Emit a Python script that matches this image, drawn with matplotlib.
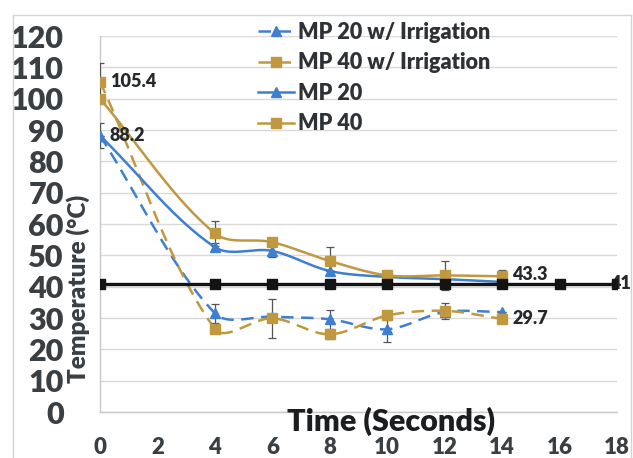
import numpy as np
import matplotlib
matplotlib.use("Agg")
import matplotlib.pyplot as plt
from matplotlib.lines import Line2D

plt.rcParams['font.family'] = ['Lato', 'DejaVu Sans']
plt.rcParams['font.weight'] = 'heavy'

# ---------------- data ----------------
t = [0, 4, 6, 8, 10, 12, 14]
mp20_irr = [88.2, 31.5, 30.4, 29.6, 26.4, 31.9, 31.9]
mp20_irr_err = [4.0, 3.0, 0.0, 3.0, 4.2, 0.0, 0.0]
mp40_irr = [105.4, 26.5, 29.9, 24.8, 30.8, 32.3, 29.7]
mp40_irr_err = [6.0, 0.0, 6.3, 1.5, 1.5, 2.5, 0.0]
mp20 = [88.2, 52.6, 51.4, 45.0, 43.1, 42.4, 41.5]
mp20_err = [0.0, 1.2, 1.8, 0.0, 0.0, 0.0, 0.0]
mp40 = [100.0, 57.0, 54.2, 48.2, 43.6, 43.6, 43.3]
mp40_err = [0.0, 4.0, 1.0, 4.5, 0.0, 4.7, 2.0]
t_ctrl = [0, 4, 6, 8, 10, 12, 14, 16, 18]
ctrl = [41.0, 41.0, 41.0, 41.0, 41.0, 41.0, 41.0, 41.0, 41.0]
ctrl_err = [0, 0, 0, 0, 0, 0, 0, 1.0, 0]

series_names = ["MP 20 w/ Irrigation", "MP 40 w/ Irrigation", "MP 20", "MP 40"]
x_ticks = [0, 2, 4, 6, 8, 10, 12, 14, 16, 18]
y_ticks = [0, 10, 20, 30, 40, 50, 60, 70, 80, 90, 100, 110, 120]

BLUE = '#3f7fd0'
GOLD = '#c0983f'
BLACK = '#141414'

W, H = 633, 458
AX_L, AX_R, AX_T, AX_B = 100, 617, 36, 412
XS = (AX_R - AX_L) / 18.0   # px per x unit
YS = (AX_B - AX_T) / 120.0  # px per y unit


def smooth(x, y, n=40):
    """Excel-like smoothed line: Bezier with chord-length scaled tangents."""
    P = np.column_stack([np.asarray(x, float), np.asarray(y, float)])
    scale = np.array([XS, YS])
    m = len(P)
    pts = []
    for i in range(m - 1):
        p0 = P[i - 1] if i > 0 else P[i]
        p1 = P[i]
        p2 = P[i + 1]
        p3 = P[i + 2] if i + 2 < m else P[i + 1]
        d01 = np.linalg.norm((p1 - p0) * scale)
        d12 = np.linalg.norm((p2 - p1) * scale)
        d23 = np.linalg.norm((p3 - p2) * scale)
        f1 = d12 / (d01 + d12) / 3.0 if (d01 + d12) > 0 else 0
        f2 = d12 / (d12 + d23) / 3.0 if (d12 + d23) > 0 else 0
        c1 = p1 + (p2 - p0) * f1
        c2 = p2 - (p3 - p1) * f2
        s = np.linspace(0, 1, n)[:, None]
        seg = ((1 - s) ** 3) * p1 + 3 * ((1 - s) ** 2) * s * c1 + 3 * (1 - s) * s ** 2 * c2 + s ** 3 * p2
        pts.append(seg if i == 0 else seg[1:])
    pts = np.vstack(pts)
    return pts[:, 0], pts[:, 1]


fig = plt.figure(figsize=(W / 100, H / 100), dpi=100)
fig.patch.set_facecolor('white')
ax = fig.add_axes([AX_L / W, (H - AX_B) / H, (AX_R - AX_L) / W, (AX_B - AX_T) / H])

ax.set_xlim(0, 18)
ax.set_ylim(0, 120)
ax.set_yticks(y_ticks)
ax.set_xticks(x_ticks)
ax.yaxis.grid(True, color='#d9d9d9', linewidth=1.0)
ax.set_axisbelow(True)
for s in ['top', 'right']:
    ax.spines[s].set_visible(False)
for s in ['left', 'bottom']:
    ax.spines[s].set_color('#c8c8c8')
    ax.spines[s].set_linewidth(1.0)
ax.tick_params(axis='y', length=0, pad=26, labelsize=22, labelcolor='#3a3f44')
ax.tick_params(axis='x', length=0, pad=18, labelsize=16, labelcolor='#3a3f44')
for lab in ax.get_xticklabels() + ax.get_yticklabels():
    lab.set_fontweight('heavy')

dash = (5, 3)
specs = [
    (mp20_irr, mp20_irr_err, BLUE, '^', 7.5, True),
    (mp40_irr, mp40_irr_err, GOLD, 's', 6.5, True),
    (mp20, mp20_err, BLUE, '^', 7.5, False),
    (mp40, mp40_err, GOLD, 's', 6.5, False),
]
handles = []
for (vals, err, col, mk, ms, dashed), name in zip(specs, series_names):
    sx, sy = smooth(t, vals)
    ln, = ax.plot(sx, sy, color=col, lw=1.8, zorder=3)
    if dashed:
        ln.set_dashes(dash)
    ax.errorbar(t, vals, yerr=err, fmt='none', ecolor='#555555', elinewidth=0.9,
                capsize=3, capthick=0.9, zorder=4)
    ax.plot(t, vals, linestyle='none', marker=mk, ms=ms, color=col, zorder=5)
    h = Line2D([], [], color=col, lw=1.8, marker=mk, ms=ms,
               linestyle=(0, dash) if dashed else '-')
    handles.append(h)

# control line (not in legend)
ax.plot(t_ctrl, ctrl, color=BLACK, lw=2.4, zorder=6)
ax.errorbar(t_ctrl, ctrl, yerr=ctrl_err, fmt='none', ecolor='#555555', elinewidth=0.9,
            capsize=3, capthick=0.9, zorder=6)
ax.plot(t_ctrl, ctrl, linestyle='none', marker='s', ms=7.5, color=BLACK, zorder=8)

# data labels
lab_kw = dict(textcoords='offset points', fontsize=13, fontweight='heavy',
              color='#26292c', va='center', ha='left', zorder=7)
ax.annotate('105.4', xy=(t[0], mp40_irr[0]), xytext=(7.5, 0), **lab_kw)
ax.annotate('88.2', xy=(t[0], mp20[0]), xytext=(7, 0), **lab_kw)
ax.annotate('43.3', xy=(t[-1], mp40[-1]), xytext=(7, 1), **lab_kw)
ax.annotate('29.7', xy=(t[-1], mp40_irr[-1]), xytext=(7.5, 0), **lab_kw)
ax.annotate('41', xy=(t_ctrl[-1], ctrl[-1]), xytext=(-5, 0), annotation_clip=False, **lab_kw)

leg = fig.legend(handles=handles, labels=series_names, loc='upper left',
                 bbox_to_anchor=(258 / W, 1 - 22 / H), bbox_transform=fig.transFigure,
                 frameon=False, fontsize=15.5, handlelength=1.65, handletextpad=0.2,
                 labelspacing=0.44, borderpad=0, borderaxespad=0)
for txt in leg.get_texts():
    txt.set_color('#2e3236')
    txt.set_fontweight('heavy')

fig.text(391 / W, 1 - 421 / H, 'Time (Seconds)', ha='center', va='center',
         fontsize=22, fontweight='heavy', color='#1b1d1f')
fig.text(78 / W, 1 - 289 / H, 'Temperature (°C)', ha='center', va='center',
         rotation=90, fontsize=17.5, fontweight='heavy', color='#3a3f44')

# faint outer chart frame
frame_kw = dict(color='#d4d4d4', lw=1.0, transform=fig.transFigure)
fig.add_artist(Line2D([13 / W, 13 / W], [0, 1 - 15 / H], **frame_kw))
fig.add_artist(Line2D([13 / W, 631 / W], [1 - 15 / H, 1 - 15 / H], **frame_kw))
fig.add_artist(Line2D([631 / W, 631 / W], [0, 1 - 15 / H], **frame_kw))

fig.savefig('out.png', dpi=100, facecolor='white')
